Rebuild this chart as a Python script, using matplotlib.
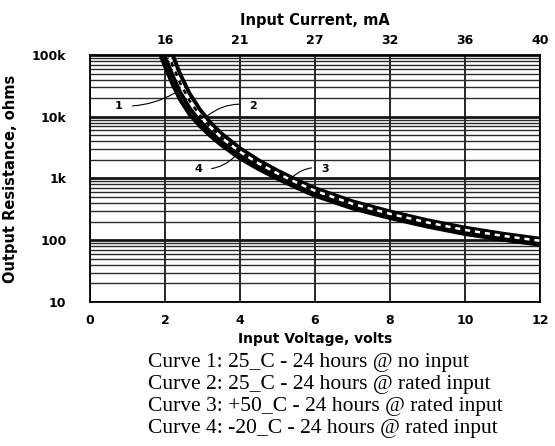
import matplotlib
matplotlib.use("Agg")
import matplotlib.pyplot as plt
from matplotlib.ticker import NullFormatter, LogLocator

# input voltage points
volts = [1.75, 1.85, 1.95, 2.05, 2.2, 2.4, 2.65, 2.93, 3.2, 3.5, 4.0,
         4.5, 5.0, 5.5, 6.0, 7.0, 8.0, 9.0, 10.0, 11.0, 12.0]
# output resistance, ohms
curve1 = [154900, 109600, 77600, 54950, 33700, 18950, 11030, 7050, 4950, 3480, 2110,
          1410, 989, 713, 525, 327, 228, 166, 126, 102, 84.5]
curve4 = [231000, 161500, 112700, 78700, 46950, 25330, 13950, 8490, 5770, 3970, 2370,
          1560, 1084, 778, 571, 354, 245, 178, 135.5, 109, 90.6]
curve2 = [589000, 398000, 269000, 182000, 101700, 49830, 24130, 13120, 8220, 5400, 3090,
          1970, 1346, 957, 698, 427, 293, 211, 160, 128, 106]
curve3 = [369000, 253500, 174200, 119700, 69100, 35520, 18340, 10560, 6890, 4630, 2700,
          1750, 1208, 864, 632, 388.5, 268, 194, 147, 118, 98]

volt_ticks = [0, 2, 4, 6, 8, 10, 12]
current_ticks = [2, 4, 6, 8, 10, 12]
current_labels = ["16", "21", "27", "32", "36", "40"]
ohm_ticks = [10, 100, 1000, 10000, 100000]
ohm_labels = ["10", "100", "1k", "10k", "100k"]

captions = ["Curve 1: 25_C - 24 hours @ no input",
            "Curve 2: 25_C - 24 hours @ rated input",
            "Curve 3: +50_C - 24 hours @ rated input",
            "Curve 4: -20_C - 24 hours @ rated input"]

fig = plt.figure(figsize=(5.55, 4.46), dpi=100)
ax = fig.add_axes([90/555, 1-302/446, 450/555, 247/446])

for c in [curve1, curve4, curve2]:
    ax.plot(volts, c, color="black", lw=2.8, solid_capstyle="butt", solid_joinstyle="round", zorder=3)
ax.plot(volts, curve3, color="white", lw=1.8, linestyle=(0, (2, 2)), gapcolor="black", zorder=4)

ax.set_yscale("log")
ax.set_xlim(0, 12)
ax.set_ylim(10, 100000)
ax.set_xticks(volt_ticks, [str(v) for v in volt_ticks])
ax.set_yticks(ohm_ticks, ohm_labels)
ax.yaxis.set_minor_locator(LogLocator(base=10, subs=range(2, 10)))
ax.yaxis.set_minor_formatter(NullFormatter())
ax.tick_params(which="both", length=0)
ax.tick_params(axis="y", pad=17)
ax.tick_params(axis="x", pad=9)
ax.set_axisbelow(True)
ax.grid(which="major", axis="y", color="#151515", lw=2.0)
ax.grid(which="minor", axis="y", color="#2a2a2a", lw=1.0)
ax.grid(which="major", axis="x", color="#151515", lw=1.3)
for s in ax.spines.values():
    s.set_linewidth(1.3)

bold = dict(fontweight="bold", family="DejaVu Sans")
for lab in ax.get_xticklabels() + ax.get_yticklabels():
    lab.set_fontsize(9)
    lab.set_fontweight("bold")

ax.set_xlabel("Input Voltage, volts", fontsize=10, labelpad=3, **bold)
ax.set_ylabel("Output Resistance, ohms", fontsize=10.5, labelpad=10, **bold)

top = ax.secondary_xaxis("top")
top.set_xticks(current_ticks, current_labels)
top.tick_params(length=0, pad=6)
for lab in top.get_xticklabels():
    lab.set_fontsize(9)
    lab.set_fontweight("bold")
top.set_xlabel("Input Current, mA", fontsize=10.5, labelpad=6, **bold)

leader = dict(arrowstyle="-", lw=0.8, color="black")
ax.annotate("1", xy=(2.25, 24000), xytext=(0.77, 15000), fontsize=8, ha="center", va="center",
            arrowprops=dict(connectionstyle="arc3,rad=0.15", shrinkA=5, shrinkB=0, **leader), **bold)
ax.annotate("2", xy=(3.1, 10000), xytext=(4.35, 15000), fontsize=8, ha="center", va="center",
            arrowprops=dict(connectionstyle="arc3,rad=0.25", shrinkA=5, shrinkB=0, **leader), **bold)
ax.annotate("4", xy=(3.87, 2300), xytext=(2.88, 1450), fontsize=8, ha="center", va="center",
            arrowprops=dict(connectionstyle="arc3,rad=0.25", shrinkA=5, shrinkB=0, **leader), **bold)
ax.annotate("3", xy=(5.41, 1070), xytext=(6.27, 1450), fontsize=8, ha="center", va="center",
            arrowprops=dict(connectionstyle="arc3,rad=0.25", shrinkA=5, shrinkB=0, **leader), **bold)

for i, line in enumerate(captions):
    fig.text(148/555, 1 - (362 + 22*i)/446, line, fontsize=15.5, family="Liberation Serif",
             ha="left", va="center")

fig.savefig("out.png", dpi=100)
